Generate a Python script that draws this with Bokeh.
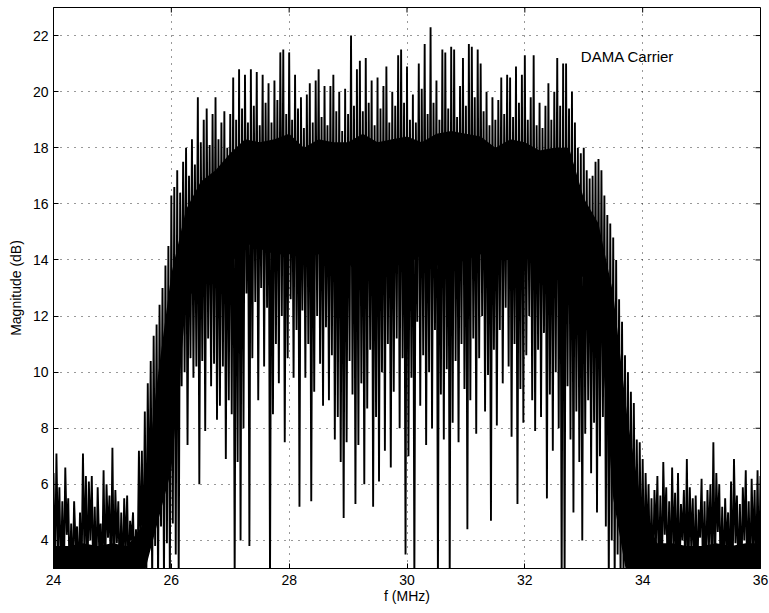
import numpy as np
from bokeh.plotting import figure
from bokeh.models import Range1d, FixedTicker, Label
from bokeh.embed import file_html
from bokeh.resources import INLINE

# Spectrum: one peak and one dip value per 0.05 MHz bin
f_start = 24.0
f_step = 0.05

peak_db = [
    6.4, 7.1, 5.9, 5.4, 6.6, 5.5, 4.6, 5.4, 4.5, 5.0, 7.1, 6.3, 6.1, 6.3, 5.2, 5.9, 4.6, 6.5, 6.0, 5.6,
    7.3, 5.8, 5.4, 5.0, 5.5, 5.6, 4.7, 5.0, 4.4, 7.2, 7.2, 8.6, 9.6, 10.4, 11.3, 11.7, 12.4, 13.0, 13.8, 14.5,
    16.3, 16.6, 17.2, 16.4, 17.5, 18.0, 17.0, 18.3, 17.4, 19.8, 18.2, 19.0, 19.4, 18.1, 19.2, 19.8, 18.3, 18.9, 19.3, 18.0,
    19.2, 20.5, 19.0, 20.8, 19.4, 20.6, 18.9, 20.8, 19.5, 20.7, 18.8, 20.6, 19.6, 20.3, 18.9, 20.4, 19.7, 21.4, 21.5, 19.2,
    21.4, 19.0, 20.6, 19.4, 19.8, 18.7, 19.9, 20.3, 18.9, 20.4, 20.8, 19.1, 20.2, 18.8, 20.2, 20.6, 19.3, 20.0, 18.6, 20.1,
    19.2, 22.0, 19.5, 20.8, 21.1, 19.3, 21.2, 19.6, 20.4, 18.8, 20.5, 19.4, 20.2, 20.9, 18.9, 20.0, 19.5, 21.3, 21.5, 19.6,
    20.9, 19.0, 19.9, 18.9, 21.0, 20.1, 21.7, 19.2, 22.3, 19.6, 20.4, 19.0, 21.5, 21.4, 19.4, 21.6, 21.5, 19.1, 20.2, 21.2,
    19.5, 21.7, 21.6, 19.8, 21.5, 21.0, 19.3, 20.0, 18.8, 19.8, 19.0, 19.7, 20.5, 19.2, 20.6, 20.5, 19.1, 20.9, 19.6, 20.6,
    21.3, 19.0, 19.8, 21.3, 18.8, 19.6, 18.7, 19.5, 20.3, 19.0, 20.0, 21.2, 19.5, 21.0, 21.0, 19.4, 20.0, 18.9, 18.0, 17.8,
    18.0, 17.2, 16.9, 17.0, 17.5, 17.6, 17.2, 16.3, 15.6, 15.3, 14.8, 14.0, 12.6, 11.8, 10.6, 10.0, 9.3, 8.9, 7.6, 7.5,
    6.9, 6.4, 6.0, 5.5, 5.8, 6.3, 5.6, 6.8, 5.9, 5.4, 6.6, 5.7, 6.4, 5.3, 5.8, 6.9, 5.9, 5.5, 5.6, 5.1,
    6.2, 5.4, 5.8, 6.0, 7.5, 6.4, 6.0, 5.2, 5.5, 5.0, 6.1, 6.9, 5.6, 5.3, 5.9, 6.5, 5.4, 6.2, 5.8, 6.5,
    6.3,
]

dip_db = [
    2.5, 3.6, 2.5, 2.5, 4.2, 2.5, 2.5, 3.8, 2.5, 2.5, 3.4, 2.5, 4.0, 2.5, 2.5, 3.7, 2.5, 2.5, 4.1, 2.5,
    2.5, 3.9, 2.5, 2.5, 3.5, 2.5, 4.0, 2.5, 2.5, 3.6, 2.5, 2.5, 4.3, 2.5, 3.8, 2.5, 4.5, 2.5, 3.9, 2.5,
    4.6, 3.5, 2.5, 9.5, 10.0, 7.4, 10.5, 9.8, 10.2, 6.0, 10.4, 7.9, 11.2, 9.5, 10.3, 8.3, 8.8, 10.2, 6.9, 9.0,
    8.5, 2.5, 6.8, 4.0, 8.0, 12.8, 3.8, 10.5, 12.5, 9.0, 13.0, 10.2, 12.3, 2.5, 8.5, 11.0, 9.6, 12.0, 7.5, 10.5,
    12.6, 9.8, 11.5, 5.2, 12.2, 9.8, 11.0, 5.4, 9.3, 12.0, 10.3, 8.8, 11.6, 9.0, 10.6, 7.6, 8.4, 6.8, 4.8, 7.5,
    10.4, 9.2, 5.3, 7.4, 9.6, 6.0, 8.7, 10.8, 5.2, 8.4, 6.1, 10.0, 7.2, 11.0, 6.6, 9.3, 11.2, 8.0, 10.5, 3.5,
    7.0, 9.8, 2.5, 11.8, 8.8, 10.6, 7.4, 10.0, 8.0, 11.5, 2.5, 9.2, 7.6, 10.1, 2.5, 8.2, 10.4, 7.5, 11.0, 9.4,
    4.4, 9.0, 11.2, 7.8, 10.5, 12.0, 8.6, 9.9, 4.7, 10.8, 8.1, 11.5, 9.6, 12.3, 10.2, 7.7, 11.0, 5.3, 9.4, 8.2,
    10.6, 12.0, 9.0, 7.9, 10.8, 8.4, 11.4, 5.5, 9.2, 7.2, 10.0, 8.0, 2.5, 2.5, 9.5, 7.6, 5.0, 8.6, 6.8, 4.0,
    7.8, 9.0, 6.4, 8.2, 5.0, 7.0, 8.4, 4.5, 2.5, 4.0, 2.5, 3.5, 2.5, 2.5, 3.2, 2.5, 2.5, 2.5, 2.5, 2.5,
    2.5, 3.6, 2.5, 2.5, 3.9, 2.5, 2.5, 4.2, 2.5, 2.5, 3.5, 2.5, 2.5, 4.0, 2.5, 2.5, 3.7, 2.5, 2.5, 4.1,
    2.5, 2.5, 3.8, 2.5, 2.5, 4.3, 2.5, 2.5, 3.6, 2.5, 2.5, 3.9, 2.5, 2.5, 4.0, 2.5, 2.5, 3.5, 2.5, 2.5,
    2.5,
]

# Fully inked inner band of the trace, read every 0.25 MHz
core_step = 0.25
core_hi_db = [
    3.8, 3.8, 3.9, 3.8, 3.9, 3.8, 4.5, 9.5, 13.5, 15.8, 16.8, 17.2, 17.8, 18.3, 18.2, 18.3,
    18.5, 18.0, 18.3, 18.2, 18.2, 18.5, 18.2, 18.3, 18.4, 18.2, 18.5, 18.6, 18.5, 18.4, 18.0, 18.3,
    18.2, 17.9, 18.0, 18.0, 16.2, 15.3, 12.8, 8.2, 5.0, 3.9, 3.9, 3.8, 3.8, 3.9, 3.8, 3.9, 3.9,
]
core_lo_db = [
    2.5, 2.5, 2.5, 2.5, 2.5, 2.5, 2.5, 4.5, 6.5, 12.5, 13.3, 13.4, 13.8, 14.6, 14.4, 14.2,
    14.2, 14.2, 14.2, 13.8, 13.8, 13.8, 14.0, 14.0, 13.8, 14.2, 13.8, 13.8, 14.0, 14.2, 14.0, 14.0,
    14.2, 13.8, 13.6, 13.4, 13.4, 12.5, 5.5, 2.5, 2.5, 2.5, 2.5, 2.5, 2.5, 2.5, 2.5, 2.5, 2.5,
]

x_ticks = [24, 26, 28, 30, 32, 34, 36]
y_ticks = [4, 6, 8, 10, 12, 14, 16, 18, 20, 22]

n = len(peak_db)
freq = np.round(f_start + f_step * np.arange(n), 4)
xs = np.empty(2 * n)
ys = np.empty(2 * n)
xs[0::2] = freq
xs[1::2] = freq + f_step / 2
ys[0::2] = peak_db
ys[1::2] = dip_db
core_f = np.round(f_start + core_step * np.arange(len(core_hi_db)), 4)

FONT = "Liberation Sans"
W, H = 769, 613
BL, BR, BT, BB = 53, 9, 7, 45

p = figure(width=W, height=H, x_range=Range1d(24, 36), y_range=Range1d(3, 23),
           output_backend="svg", toolbar_location=None,
           min_border_left=BL, min_border_right=BR, min_border_top=BT, min_border_bottom=BB)
p.background_fill_color = "white"
p.border_fill_color = "white"
p.outline_line_color = "black"
p.outline_line_width = 1

p.varea(x=core_f, y1=core_lo_db, y2=core_hi_db, fill_color="black")
p.line(xs, ys, line_color="black", line_width=1.9, line_join="bevel")

for ax, ticks in ((p.xaxis[0], x_ticks), (p.yaxis[0], y_ticks)):
    ax.ticker = FixedTicker(ticks=ticks)
    ax.major_tick_in = 5
    ax.major_tick_out = 0
    ax.minor_tick_in = 0
    ax.minor_tick_out = 0
    ax.axis_line_color = "black"
    ax.major_tick_line_color = "black"
    ax.major_label_text_font = FONT
    ax.major_label_text_font_size = "14px"
    ax.major_label_text_color = "black"
    ax.axis_label_text_font = FONT
    ax.axis_label_text_font_size = "14px"
    ax.axis_label_text_font_style = "normal"
    ax.axis_label_text_color = "black"

p.xaxis.axis_label = "f (MHz)"
p.yaxis.axis_label = "Magnitude (dB)"
p.xaxis.major_label_standoff = 6
p.xaxis.axis_label_standoff = 0
p.yaxis.major_label_standoff = 5
p.yaxis.axis_label_standoff = 6

# mirrored inward ticks on the right and top frame edges (5 px long)
xr, yr = p.x_range, p.y_range
tick_dx = (xr.end - xr.start) * 5 / (W - BL - BR)
tick_dy = (yr.end - yr.start) * 5 / (H - BT - BB)
p.segment(x0=[xr.end] * len(y_ticks), y0=y_ticks, x1=[xr.end - tick_dx] * len(y_ticks), y1=y_ticks,
          line_color="black", line_width=1)
p.segment(x0=x_ticks, y0=[yr.end] * len(x_ticks), x1=x_ticks, y1=[yr.end - tick_dy] * len(x_ticks),
          line_color="black", line_width=1)

for g in (p.xgrid[0], p.ygrid[0]):
    g.grid_line_color = "black"
    g.grid_line_alpha = 0.8
    g.grid_line_dash = "1 6"
    g.grid_line_width = 1

p.add_layout(Label(x=32.95, y=21.25, text="DAMA Carrier", text_font=FONT,
                   text_font_size="15px", text_baseline="middle", text_color="black"))

open("out.html", "w").write(file_html(p, INLINE))
